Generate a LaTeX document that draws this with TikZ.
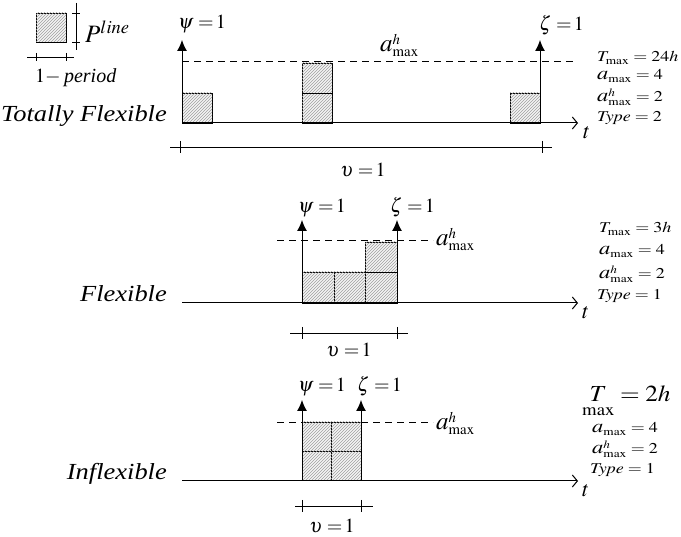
\documentclass[tikz,border=0pt]{standalone}
\usepackage{mathptmx}
\usepackage{fontspec}
\setmainfont{Liberation Serif}
\usetikzlibrary{arrows.meta,patterns,positioning}

\tikzset{
  blok/.style={draw, line width=0.8pt, fill=gray!8,
    postaction={pattern=north east lines, pattern color=gray!75}},
  pijl/.style={line width=1pt, -{Latex[length=11pt,width=10pt]}},
  tijdas/.style={line width=1pt, -{Straight Barb[length=5pt,width=12pt]}},
  stippel/.style={line width=0.8pt, dash pattern=on 7pt off 5pt},
  maat/.style={line width=0.8pt},
  lab/.style={inner sep=0pt, anchor=base west},
}
\newcommand{\lbl}{\fontsize{20}{22}\selectfont}
\newcommand{\zij}{\fontsize{15}{16}\selectfont}
\newcommand{\naam}{\fontsize{23}{25}\selectfont\itshape}
\newcommand{\breed}[1]{\scalebox{1.2}[1]{#1}}
\newcommand{\ahmax}{{\scalebox{1.25}{$a$}}^{h}_{\mathrm{max}}}
\newcommand{\amax}{{\scalebox{1.25}{$a$}}_{\mathrm{max}}}

\begin{document}
\begin{tikzpicture}[x=1pt,y=-1pt]
    \useasboundingbox (0,0) rectangle (681,537);

    % Legenda
    \draw[blok] (36,13) rectangle (66,42);
    \coordinate (lv1) at (76,3);
    \coordinate (lv2) at (76,50);
    \draw[maat] (lv1) -- (lv2);
    \foreach \y in {13,42} \draw[maat] (72,\y) -- (80,\y);
    \node[lab] (pline) at (85,43) {\fontsize{25}{27}\selectfont$P^{line}$};
    \coordinate (lh1) at (27,57);
    \coordinate (lh2) at (74,57);
    \draw[maat] (lh1) -- (lh2);
    \foreach \x in {36,66} \draw[maat] (\x,53) -- (\x,61);
    \node[lab] (periode) at (35,83) {\lbl$1-$\,\textit{period}};

    % ---------- Totally Flexible ----------
    \node[inner sep=0pt, anchor=base east] (tf) at (167,122) {\naam\scalebox{1.15}[1]{Totally Flexible}};
    \draw[stippel] (182,61) -- (575,61);
    \draw[blok] (182,93) rectangle (212,123);
    \draw[blok] (302,93) rectangle (332,123);
    \draw[blok] (302,63) rectangle (332,93);
    \draw[blok] (510,93) rectangle (540,123);
    \coordinate (a1s) at (182,123);
    \coordinate (a1e) at (578,123);
    \draw[tijdas] (a1s) -- (a1e);
    \node[lab] (t1) at (583,139) {\fontsize{22}{24}\selectfont$t$};
    % psi en zeta
    \coordinate (psi1) at (182,40);
    \coordinate (zeta1) at (540,40);
    \draw[pijl] (a1s) -- (psi1);
    \draw[pijl] (540,123) -- (zeta1);
    \node[lab] (psil1) at (178,29) {\lbl$\psi=\!1$};
    \node[lab] (zetal1) at (539,31) {\lbl$\zeta=\!1$};
    \node[lab] (ah1) at (380,52) {\lbl$\ahmax$};
    % maat
    \coordinate (m1s) at (170,147);
    \coordinate (m1e) at (552,147);
    \draw[maat] (m1s) -- (m1e);
    \foreach \x in {180,542} \draw[maat] (\x,141) -- (\x,153);
    \node[inner sep=0pt, anchor=base] (ups1) at (363,177) {\lbl$\upsilon=\!1$};
    % parameters
    \node[lab] (p1a) at (597,62) {\zij\breed{$T_{\mathrm{max}}=24h$}};
    \node[lab] (p1b) at (597,80) {\zij\breed{$\amax=4$}};
    \node[lab] (p1c) at (597,102) {\zij\breed{$\ahmax=2$}};
    \node[lab] (p1d) at (597,122) {\zij\breed{$\mathit{Type}=2$}};

    % ---------- Flexible ----------
    \node[inner sep=0pt, anchor=base east] (fl) at (167,302) {\naam\scalebox{1.15}[1]{Flexible}};
    \draw[stippel] (277,240) -- (433,240);
    \draw[blok] (302,272) rectangle (334,303);
    \draw[blok] (334,272) rectangle (365,303);
    \draw[blok] (365,272) rectangle (397,303);
    \draw[blok] (365,242) rectangle (397,272);
    \coordinate (a2s) at (182,303);
    \coordinate (a2e) at (578,303);
    \draw[tijdas] (a2s) -- (a2e);
    \node[lab] (t2) at (582,319) {\fontsize{22}{24}\selectfont$t$};
    \coordinate (psi2) at (302,220);
    \coordinate (zeta2) at (397,220);
    \draw[pijl] (302,303) -- (psi2);
    \draw[pijl] (397,303) -- (zeta2);
    \node[lab] (psil2) at (298,213) {\lbl$\psi=\!1$};
    \node[lab] (zetal2) at (390,213) {\lbl$\zeta=\!1$};
    \node[lab] (ah2) at (436,246) {\lbl$\ahmax$};
    \coordinate (m2s) at (290,333);
    \coordinate (m2e) at (408,333);
    \draw[maat] (m2s) -- (m2e);
    \foreach \x in {302,397} \draw[maat] (\x,327) -- (\x,339);
    \node[inner sep=0pt, anchor=base] (ups2) at (349,357) {\lbl$\upsilon=\!1$};
    \node[lab] (p2a) at (599,233) {\zij\breed{$T_{\mathrm{max}}=3h$}};
    \node[lab] (p2b) at (599,255) {\zij\breed{$\amax=4$}};
    \node[lab] (p2c) at (599,279) {\zij\breed{$\ahmax=2$}};
    \node[lab] (p2d) at (597,300) {\zij\breed{$\mathit{Type}=1$}};

    % ---------- Inflexible ----------
    \node[inner sep=0pt, anchor=base east] (infl) at (167,480) {\naam\scalebox{1.15}[1]{Inflexible}};
    \draw[stippel] (277,422) -- (433,422);
    \foreach \x in {302,331} \foreach \y in {422,451}
        \draw[blok] (\x,\y) rectangle +(30,29);
    \coordinate (a3s) at (182,481);
    \coordinate (a3e) at (578,481);
    \draw[tijdas] (a3s) -- (a3e);
    \node[lab] (t3) at (582,497) {\fontsize{22}{24}\selectfont$t$};
    \coordinate (psi3) at (302,400);
    \coordinate (zeta3) at (361,400);
    \draw[pijl] (302,481) -- (psi3);
    \draw[pijl] (361,481) -- (zeta3);
    \node[lab] (psil3) at (298,392) {\lbl$\psi=\!1$};
    \node[lab] (zetal3) at (357,392) {\lbl$\zeta=\!1$};
    \node[lab] (ah3) at (436,430) {\lbl$\ahmax$};
    \coordinate (m3s) at (295,506);
    \coordinate (m3e) at (373,506);
    \draw[maat] (m3s) -- (m3e);
    \foreach \x in {302,361} \draw[maat] (\x,500) -- (\x,512);
    \node[inner sep=0pt, anchor=base] (ups3) at (332,533) {\lbl$\upsilon=\!1$};
    \node[lab] (p3a) at (582,402) {\fontsize{23}{25}\selectfont\scalebox{1.1}[1]{$\mathop{\kern0pt T}\limits_{\mathrm{max}}=2h$}};
    \node[lab] (p3b) at (592,433) {\zij\breed{$\amax=4$}};
    \node[lab] (p3c) at (592,454) {\zij\breed{$\ahmax=2$}};
    \node[lab] (p3d) at (590,474) {\zij\breed{$\mathit{Type}=1$}};
\end{tikzpicture}
\end{document}
